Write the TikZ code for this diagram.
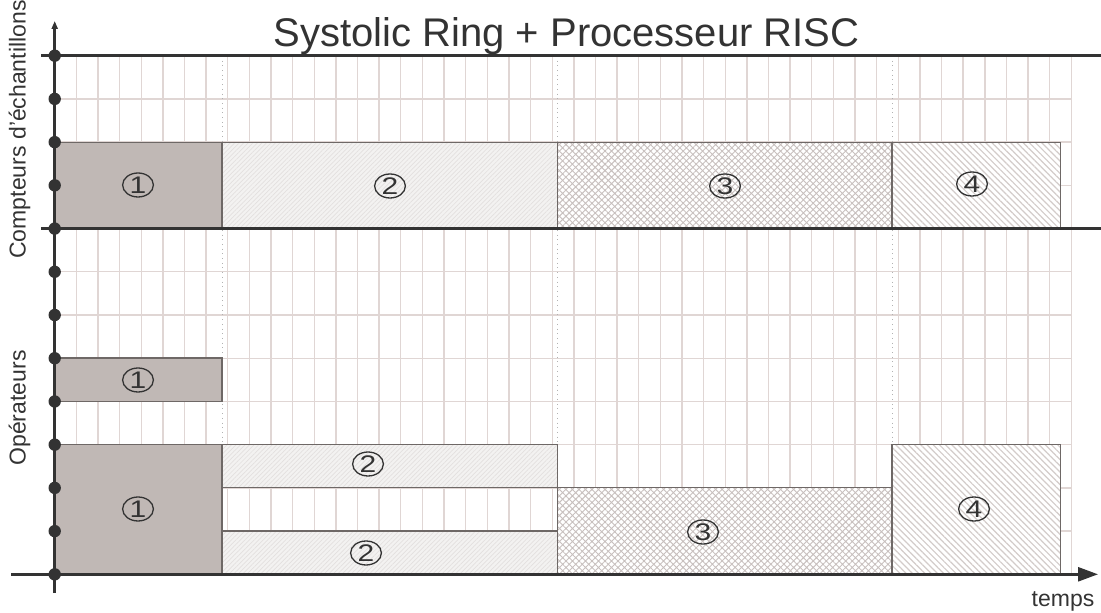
\documentclass[tikz,border=0pt]{standalone}
\usepackage{fontspec}
\usepackage{graphicx}
\setmainfont{Liberation Sans}
\usetikzlibrary{patterns.meta,arrows.meta,shapes.geometric}
\definecolor{axisc}{HTML}{333333}
\definecolor{gridc}{HTML}{E0D6D4}
\definecolor{fillone}{HTML}{C0B8B5}
\definecolor{edgec}{HTML}{6E6866}
\definecolor{filltwo}{HTML}{F3F2F1}
\definecolor{hatchtwo}{HTML}{E3E0DF}
\definecolor{hatchthree}{HTML}{C8C0BE}
\definecolor{hatchfour}{HTML}{D3CCCA}
\newcommand{\cdigit}[1]{\scalebox{1.25}[1]{#1}}
\tikzset{
  gridline/.style={draw=gridc, line width=0.7pt},
  axisline/.style={draw=axisc, line width=1.3pt},
  phasesep/.style={draw=gray!60, line width=0.35pt, dotted},
  boxone/.style={fill=fillone, draw=edgec, line width=0.7pt},
  boxtwo/.style={preaction={fill=filltwo}, pattern={Lines[angle=45,distance=1.6pt,line width=0.35pt]}, pattern color=hatchtwo, draw=edgec, line width=0.7pt},
  boxthree/.style={preaction={fill=white}, pattern={Hatch[angle=45,distance=2.3pt,line width=0.45pt]}, pattern color=hatchthree, draw=edgec, line width=0.7pt},
  boxfour/.style={preaction={fill=white}, pattern={Lines[angle=-45,distance=2.2pt,line width=0.6pt]}, pattern color=hatchfour, draw=edgec, line width=0.7pt},
  phaselabel/.style={ellipse, draw=axisc, line width=0.65pt, minimum width=15.4pt, minimum height=12pt, inner sep=0pt,
    font=\fontsize{12}{12}\selectfont, text=axisc},
  axislabel/.style={font=\fontsize{11.5}{12}\selectfont, text=axisc, inner sep=0pt},
  dot/.style={circle, fill=axisc, inner sep=0pt, minimum size=6.2pt},
}
\begin{document}
\begin{tikzpicture}[x=0.5pt,y=-0.5pt]
\useasboundingbox (0,0) rectangle (1101,613);
% grid
\foreach \k in {1,...,47} \draw[gridline] ({54.7+21.63*\k},56) -- ({54.7+21.63*\k},574);
\foreach \i in {1,...,11} \draw[gridline] (54.7,{55.7+43.22*\i}) -- (1071.4,{55.7+43.22*\i});
% phase separators
\foreach \xx in {222,557.7,892} \draw[phasesep] (\xx,56) -- (\xx,574);
% upper boxes
\draw[boxone] (54.7,142.7) rectangle (222,228.7);
\draw[boxtwo] (222,142.7) rectangle (557.7,228.7);
\draw[boxthree] (557.7,142.7) rectangle (892,228.7);
\draw[boxfour] (892,142.7) rectangle (1060.5,228.7);
% lower boxes
\draw[boxone] (54.7,358) rectangle (222,401.3);
\draw[boxone] (54.7,444.5) rectangle (222,574.3);
\draw[boxtwo] (222,444.5) rectangle (557.7,487.8);
\draw[boxtwo] (222,531) rectangle (557.7,574.3);
\draw[boxthree] (557.7,487.8) rectangle (892,574.3);
\draw[boxfour] (892,444.5) rectangle (1060.5,574.3);
% labels
\node[phaselabel] (u1) at (138,185) {\cdigit{1}};
\node[phaselabel] (u2) at (390,186) {\cdigit{2}};
\node[phaselabel] (u3) at (725,186) {\cdigit{3}};
\node[phaselabel] (u4) at (972,184) {\cdigit{4}};
\node[phaselabel] (l1a) at (138,380) {\cdigit{1}};
\node[phaselabel] (l1b) at (138,509) {\cdigit{1}};
\node[phaselabel] (l2a) at (368,464) {\cdigit{2}};
\node[phaselabel] (l2b) at (366,553) {\cdigit{2}};
\node[phaselabel] (l3) at (703,532) {\cdigit{3}};
\node[phaselabel] (l4) at (974,509) {\cdigit{4}};
% thick separators
\draw[axisline] (41,55.7) -- (1101,55.7);
\draw[axisline] (41,228.7) -- (1101,228.7);
% axes
\coordinate (xs) at (11,574.3);
\coordinate (xe) at (1098,574.3);
\coordinate (ys) at (54.7,593);
\coordinate (ye) at (54.7,21);
\draw[axisline, -{Triangle[length=10pt,width=7pt]}] (xs) -- (xe);
\draw[draw=axisc, line width=1.3pt, -{Triangle[length=4pt,width=3pt]}] (ys) -- (ye);
\foreach \i in {0,...,12} \node[dot] (d\i) at (54.7,{55.7+43.22*\i}) {};
% texts
\node[font=\fontsize{20}{22}\selectfont, text=axisc, anchor=base, inner sep=0pt] (title) at (566.5,47) {Systolic Ring + Processeur RISC};
\node[axislabel, anchor=base, rotate=90] (cnt) at (25.5,129.5) {Compteurs d'échantillons};
\node[axislabel, anchor=base, rotate=90] (ops) at (25.5,408) {Opérateurs};
\node[axislabel, anchor=base] (tps) at (1063,606) {temps};
\end{tikzpicture}
\end{document}
